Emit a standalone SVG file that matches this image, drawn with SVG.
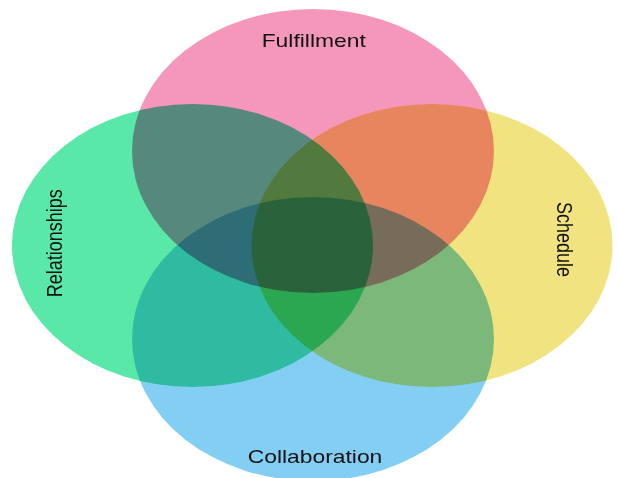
<svg xmlns="http://www.w3.org/2000/svg" width="618" height="478" viewBox="0 0 618 478">
  <style>
    .set { mix-blend-mode: multiply; }
    .label { font-family: "Liberation Sans", Arial, sans-serif; font-size: 18px; fill: #111; text-anchor: middle; }
  </style>
  <rect width="618" height="478" fill="#ffffff"/>

  <!-- four overlapping sets; overlaps darken by multiplying -->
  <g id="fulfillment">
    <ellipse class="set" cx="313" cy="151" rx="181" ry="142" fill="#f596bb"/>
    <text class="label" transform="translate(313.7,47) scale(1.27,1)" x="0" y="0">Fulfillment</text>
  </g>
  <g id="relationships">
    <ellipse class="set" cx="192.5" cy="245.5" rx="180.5" ry="141.5" fill="#5ae8a9"/>
    <text class="label" transform="translate(62,243.3) scale(1.18,1) rotate(-90)" x="0" y="0">Relationships</text>
  </g>
  <g id="schedule">
    <ellipse class="set" cx="432" cy="245.5" rx="180.5" ry="141.5" fill="#f1e480"/>
    <text class="label" transform="translate(557,239.5) scale(1.18,1) rotate(90)" x="0" y="0">Schedule</text>
  </g>
  <g id="collaboration">
    <ellipse class="set" cx="313" cy="339" rx="181" ry="142" fill="#83cef3"/>
    <text class="label" transform="translate(315,463) scale(1.27,1)" x="0" y="0">Collaboration</text>
  </g>

  <g id="connectors"></g>
</svg>
